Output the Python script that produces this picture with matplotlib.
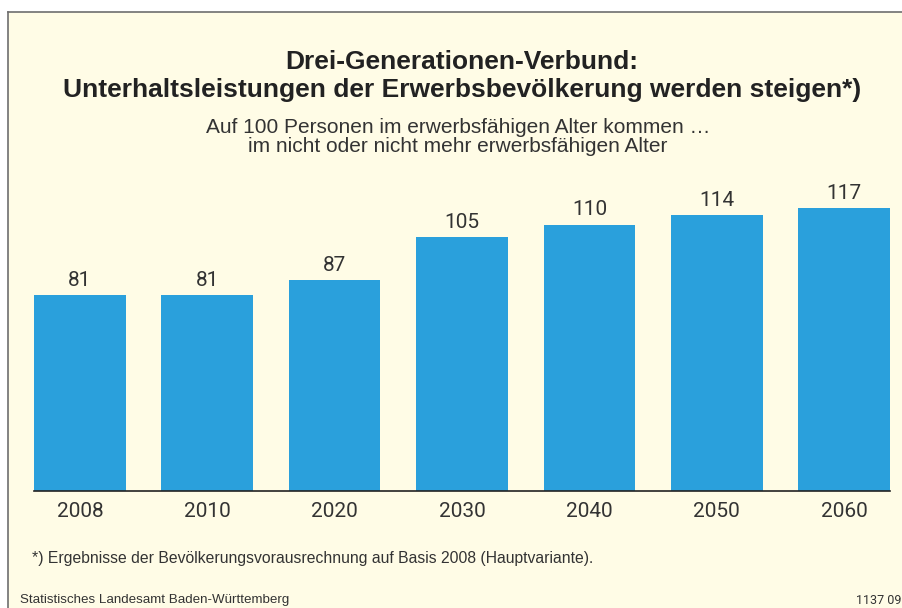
import matplotlib
matplotlib.use("Agg")
import matplotlib.pyplot as plt

years = ["2008", "2010", "2020", "2030", "2040", "2050", "2060"]
values = [81, 81, 87, 105, 110, 114, 117]

title = "Drei-Generationen-Verbund:\nUnterhaltsleistungen der Erwerbsbevölkerung werden steigen*)"
subtitle = "Auf 100 Personen im erwerbsfähigen Alter kommen …\nim nicht oder nicht mehr erwerbsfähigen Alter"
footnote = "*) Ergebnisse der Bevölkerungsvorausrechnung auf Basis 2008 (Hauptvariante)."
source = "Statistisches Landesamt Baden-Württemberg"
code = "1137 09"

BG = "#fffce6"
BAR = "#2aa0dc"
TXT = "#333333"
NUM = ["Roboto", "Liberation Sans", "DejaVu Sans"]  # tabular digits, no "11" kerning

plt.rcParams["font.family"] = ["Liberation Sans", "DejaVu Sans"]

W, H = 903, 608
fig = plt.figure(figsize=(W / 100, H / 100), dpi=100)
fig.patch.set_facecolor("white")

# cream panel with grey border on the left and top
bg = fig.add_axes([8 / W, 0, 1 - 8 / W, 1 - 12 / H], zorder=-1)
bg.set_facecolor(BG)
bg.set_xticks([])
bg.set_yticks([])
for s in ["right", "bottom"]:
    bg.spines[s].set_visible(False)
for s in ["left", "top"]:
    bg.spines[s].set_color("#6e6e6e")
    bg.spines[s].set_linewidth(1.2)

# axes: baseline at y=491px, 2.42 px per unit
ymax = 130
base = 491
top = base - ymax * 2.42
ax = fig.add_axes([34 / W, 1 - base / H, (890 - 34) / W, (base - top) / H], zorder=1)
ax.set_facecolor("none")
x = list(range(len(years)))
ax.bar(x, values, width=0.72, color=BAR, zorder=2)
ax.set_xlim(-0.36, len(years) - 1 + 0.36)
ax.set_ylim(0, ymax)
for xi, v in zip(x, values):
    ax.text(xi, v + 2.2, str(v), ha="center", va="bottom", fontsize=15, color=TXT, family=NUM)
for s in ["top", "right", "left"]:
    ax.spines[s].set_visible(False)
ax.spines["bottom"].set_color("#222222")
ax.spines["bottom"].set_linewidth(1.2)
ax.set_yticks([])
ax.set_xticks(x)
ax.set_xticklabels(years, fontsize=15, color=TXT, family=NUM)
ax.tick_params(axis="x", length=0, pad=8)

fig.text(462 / W, 1 - 76 / H, title, ha="center", va="center", fontsize=19, fontweight="bold",
         color="#222222", linespacing=1.25)
fig.text(458 / W, 1 - 137 / H, subtitle, ha="center", va="center", fontsize=15, color=TXT,
         linespacing=0.95)
fig.text(32 / W, 1 - 558 / H, footnote, ha="left", va="center", fontsize=11.3, color=TXT)
fig.text(20 / W, 1 - 600 / H, source, ha="left", va="center", fontsize=9.6, color=TXT)
fig.text(902 / W, 1 - 600 / H, code, ha="right", va="center", fontsize=9, color=TXT, family=NUM)

fig.savefig("out.png", dpi=100, facecolor=fig.get_facecolor())
